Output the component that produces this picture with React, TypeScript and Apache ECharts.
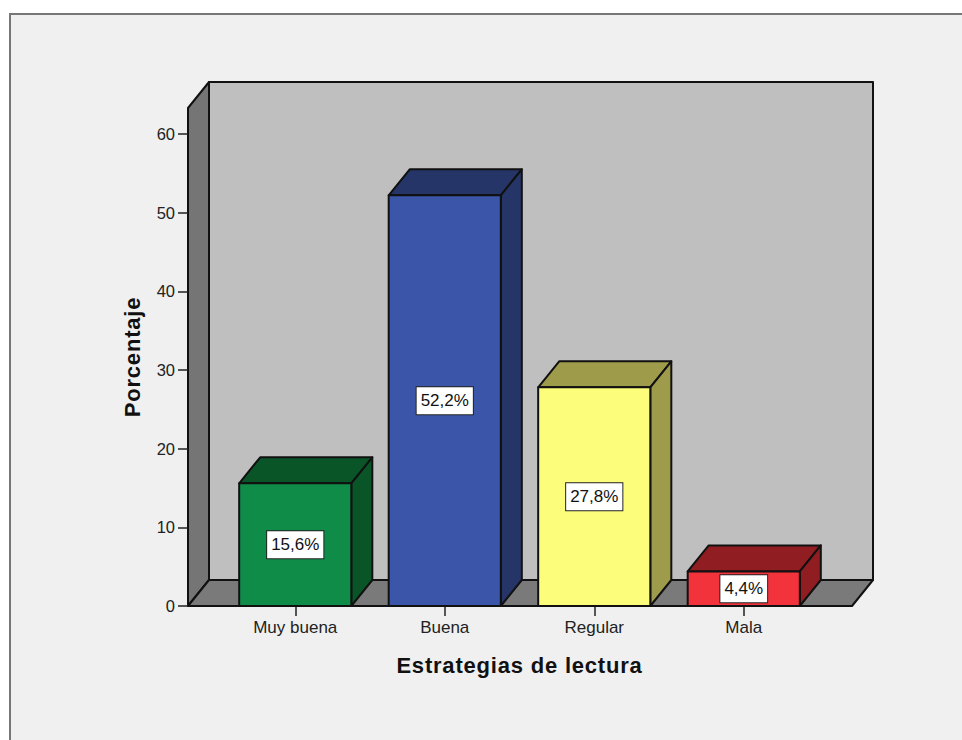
import React, { useEffect, useRef } from "react";
import * as echarts from "echarts";

const categories = ["Muy buena", "Buena", "Regular", "Mala"];
const values = [15.6, 52.2, 27.8, 4.4];
const valueLabels = ["15,6%", "52,2%", "27,8%", "4,4%"];
const faceColors = ["#0f8c48", "#3b56a8", "#fdfd7c", "#f2333b"];
const shadeColors = ["#0a5528", "#263567", "#9e9b4a", "#8f1d22"];
const yTicks = { min: 0, max: 60, interval: 10 };

const DX = 21;
const DY = 26;
const OUTLINE = "#111111";
const FONT = "'Liberation Sans', Arial, sans-serif";

export default function App() {
  const ref = useRef<HTMLDivElement>(null);
  useEffect(() => {
    document.body.style.margin = "0";
    const chart = echarts.init(ref.current!, null, { renderer: "svg" });
    const L = 188, R = 852, B = 606, T = 108;
    const line = { stroke: OUTLINE, lineWidth: 2, lineJoin: "round" };
    chart.setOption({
      animation: false,
      backgroundColor: "#ffffff",
      grid: { left: 220.5, width: 598, top: 134, height: 472 },
      graphic: {
        elements: [
          { type: "rect", z: -3, shape: { x: 10, y: 14, width: 970, height: 740 }, style: { fill: "#f0f0f0", stroke: "#777777", lineWidth: 2 } },
          { type: "rect", z: -2, shape: { x: L + DX, y: T - DY, width: R - L, height: B - T }, style: { fill: "#bfbfbf", ...line } },
          { type: "polygon", z: -2, shape: { points: [[L, T], [L + DX, T - DY], [L + DX, B - DY], [L, B]] }, style: { fill: "#757575", ...line } },
          { type: "polygon", z: -2, shape: { points: [[L, B], [L + DX, B - DY], [R + DX, B - DY], [R, B]] }, style: { fill: "#7a7a7a", ...line } },
        ],
      },
      xAxis: {
        type: "category",
        data: categories,
        axisLine: { show: false },
        axisTick: { show: true, alignWithLabel: true, length: 10, lineStyle: { color: "#222222", width: 1.5 } },
        axisLabel: { color: "#222222", fontFamily: FONT, fontSize: 17, margin: 13 },
        name: "Estrategias de lectura",
        nameLocation: "middle",
        nameGap: 48,
        nameTextStyle: { color: "#111111", fontFamily: FONT, fontSize: 22, fontWeight: "bold" },
      },
      yAxis: {
        type: "value",
        min: yTicks.min,
        max: yTicks.max,
        interval: yTicks.interval,
        offset: 32.5,
        splitLine: { show: false },
        axisLine: { show: false },
        axisTick: { show: true, length: 10, lineStyle: { color: "#222222", width: 1.5 } },
        axisLabel: { color: "#222222", fontFamily: FONT, fontSize: 16.5, margin: 13 },
        name: "Porcentaje",
        nameLocation: "middle",
        nameRotate: 90,
        nameGap: 45,
        nameMoveOverlap: false,
        nameTextStyle: { color: "#111111", fontFamily: FONT, fontSize: 22, fontWeight: "bold", padding: [0, 0, 0, 26] },
      },
      series: [
        {
          type: "custom",
          z: 5,
          data: values.map((v, i) => [i, v]),
          encode: { x: 0, y: 1 },
          renderItem: (params: any, api: any) => {
            const i = api.value(0);
            const v = api.value(1);
            const top = api.coord([i, v]);
            const base = api.coord([i, 0]);
            const w = api.size([1, 0])[0] * 0.75;
            const x0 = top[0] - w / 2;
            const x1 = top[0] + w / 2;
            const y0 = top[1];
            const y1 = base[1];
            const style = { stroke: OUTLINE, lineWidth: 2, lineJoin: "round" };
            return {
              type: "group",
              children: [
                { type: "polygon", shape: { points: [[x0, y0], [x0 + DX, y0 - DY], [x1 + DX, y0 - DY], [x1, y0]] }, style: { fill: shadeColors[i], ...style } },
                { type: "polygon", shape: { points: [[x1, y0], [x1 + DX, y0 - DY], [x1 + DX, y1 - DY], [x1, y1]] }, style: { fill: shadeColors[i], ...style } },
                { type: "rect", shape: { x: x0, y: y0, width: w, height: y1 - y0 }, style: { fill: faceColors[i], ...style } },
                {
                  type: "text",
                  x: top[0],
                  y: (y0 + y1) / 2,
                  style: {
                    text: valueLabels[i],
                    align: "center",
                    verticalAlign: "middle",
                    fontFamily: FONT,
                    fontSize: 17,
                    fill: "#111111",
                    backgroundColor: "#ffffff",
                    borderColor: "#222222",
                    borderWidth: 1,
                    padding: [5, 4, 5, 4],
                  },
                },
              ],
            };
          },
        },
      ],
    });
    return () => chart.dispose();
  }, []);
  return (
    <>
      <style>{`svg text[style*="bold"] { letter-spacing: 0.8px; }`}</style>
      <div ref={ref} style={{ width: 962, height: 740 }} />
    </>
  );
}
